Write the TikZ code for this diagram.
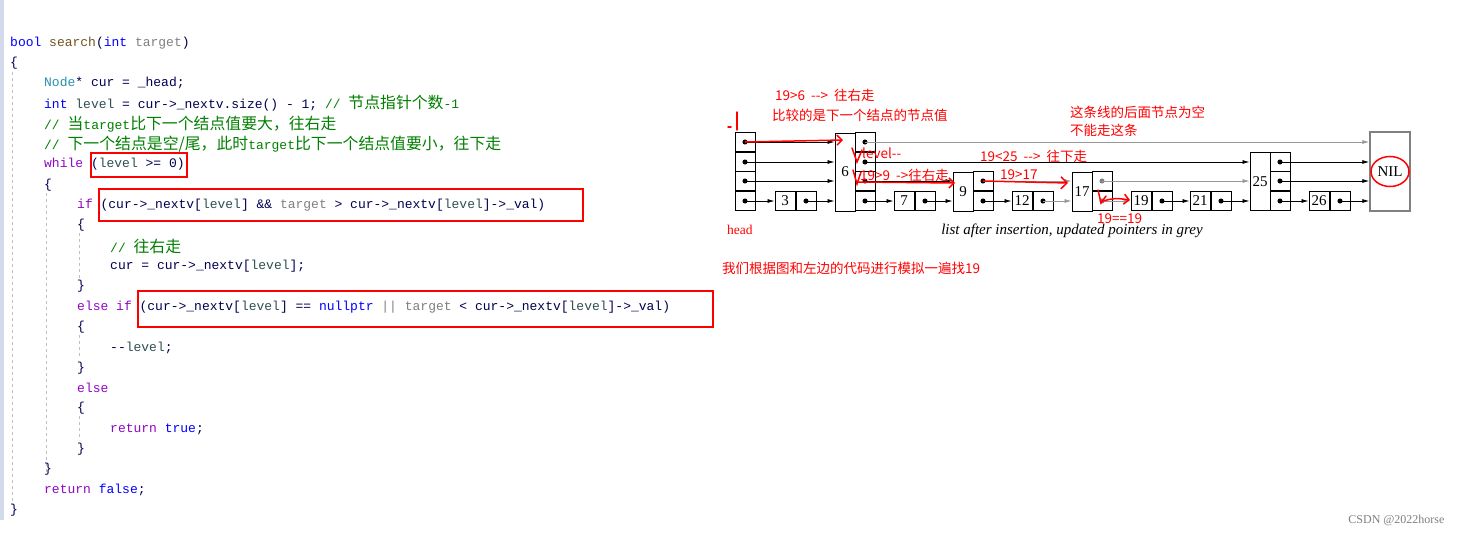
\documentclass[tikz,border=0pt]{standalone}
\usepackage{fontspec}
\setmonofont{Liberation Mono}
\setmainfont{Liberation Serif}
\newfontfamily\cjk[Scale=1.22]{Noto Sans CJK SC}
\newfontfamily\redcjk{Noto Sans CJK SC}
\usetikzlibrary{arrows.meta,positioning}
\definecolor{kwblue}{RGB}{0,0,255}
\definecolor{kwpurple}{RGB}{143,8,196}
\definecolor{cmgreen}{RGB}{0,128,0}
\definecolor{tggrey}{RGB}{128,128,128}
\definecolor{idnavy}{RGB}{0,0,80}
\definecolor{lvteal}{RGB}{47,79,79}
\definecolor{nodeteal}{RGB}{43,145,175}
\definecolor{fnbrown}{RGB}{116,83,31}
\definecolor{barblue}{RGB}{210,218,235}
\newcommand{\kw}[1]{\textcolor{kwblue}{#1}}
\newcommand{\kp}[1]{\textcolor{kwpurple}{#1}}
\newcommand{\cm}[1]{\textcolor{cmgreen}{#1}}
\newcommand{\tg}[1]{\textcolor{tggrey}{#1}}
\newcommand{\lv}[1]{\textcolor{lvteal}{#1}}
\tikzset{
  codeline/.style={anchor=west,inner sep=0pt,font=\ttfamily\fontsize{13}{14}\selectfont,text=idnavy},
  redbox/.style={draw=red,line width=1.2pt},
  cell/.style={draw,line width=1pt,minimum width=20pt,minimum height=19.5pt,inner sep=0pt,font=\fontsize{15}{16}\selectfont},
  ptr/.style={-{Latex[length=7pt,width=4pt]},line width=0.8pt},
  newptr/.style={ptr,draw=gray!80},
  dot/.style={circle,fill,inner sep=1.8pt},
  note/.style={red,anchor=west,inner sep=0pt,font=\redcjk\fontsize{13.5}{15}\selectfont},
  hand/.style={red,line width=1.5pt,line cap=round}
}
\begin{document}
\begin{tikzpicture}[x=1pt,y=-1pt]
\useasboundingbox[fill=white] (0,0) rectangle (1460,535);
% left margin bar and indent guides
\fill[barblue] (0,0) rectangle (4,520);
\draw[gray!50,dashed] (12,72) -- (12,505);
\draw[gray!50,dashed] (46,193) -- (46,475);
\draw[gray!50,dashed] (79,233) -- (79,280) (79,335) -- (79,358) (79,416) -- (79,440);
% the code
\node[codeline] (l1) at (10,43) {\kw{bool} \textcolor{fnbrown}{search}(\kw{int} \tg{target})};
\node[codeline] (l2) at (10,63) {\{};
\node[codeline] (l3) at (44,83) {\textcolor{nodeteal}{Node}* cur = \_head;};
\node[codeline] (l4) at (44,103) {\kw{int} \lv{level} = cur->\_nextv.size() - 1; \cm{// {\cjk 节点指针个数}-1}};
\node[codeline] (l5) at (44,124) {\cm{// {\cjk 当}target{\cjk 比下一个结点值要大，往右走}}};
\node[codeline] (l6) at (44,144) {\cm{// {\cjk 下一个结点是空/尾，此时}target{\cjk 比下一个结点值要小，往下走}}};
\node[codeline] (l7) at (44,164) {\kp{while} (\lv{level} >= 0)};
\node[codeline] (l8) at (44,185) {\{};
\node[codeline] (l9) at (77,205) {\kp{if} (cur->\_nextv[\lv{level}] \&\& \tg{target} > cur->\_nextv[\lv{level}]->\_val)};
\node[codeline] (l10) at (77,225) {\{};
\node[codeline] (l11) at (110,246) {\cm{// {\cjk 往右走}}};
\node[codeline] (l12) at (110,266) {cur = cur->\_nextv[\lv{level}];};
\node[codeline] (l13) at (77,286) {\}};
\node[codeline] (l14) at (77,307) {\kp{else if} (cur->\_nextv[\lv{level}] == \kw{nullptr} \tg{||} \tg{target} < cur->\_nextv[\lv{level}]->\_val)};
\node[codeline] (l15) at (77,327) {\{};
\node[codeline] (l16) at (110,348) {--\lv{level};};
\node[codeline] (l17) at (77,368) {\}};
\node[codeline] (l18) at (77,388) {\kp{else}};
\node[codeline] (l19) at (77,408) {\{};
\node[codeline] (l20) at (110,429) {\kp{return} \kw{true};};
\node[codeline] (l21) at (77,449) {\}};
\node[codeline] (l22) at (44,469) {\}};
\node[codeline] (l23) at (44,490) {\kp{return} \kw{false};};
\node[codeline] (l24) at (10,510) {\}};
% red boxes round the conditions
\draw[redbox] (91,153) rectangle (187,177);
\draw[redbox] (99,189) rectangle (583,221);
\draw[redbox] (138,291) rectangle (713,327);
% skip list: head tower
\foreach \i/\y in {3/142,2/162,1/181,0/201}{
  \node[cell] (h\i) at (745,\y) {};
  \node[dot] at (h\i) {};
}
% single level nodes
\foreach \v/\x in {3/795,7/914,12/1032,19/1151,21/1210,26/1329}{
  \node[cell] (k\v) at (\x-10,201) {\v};
  \node[cell,right=0pt of k\v] (p\v) {};
  \node[dot] at (p\v) {};
}
% tall towers
\node[cell,minimum height=78pt] (k6) at (845,172) {6};
\foreach \i/\y in {3/142,2/162,1/181,0/201}{
  \node[cell] (t6\i) at (865,\y) {};
  \node[dot] at (t6\i) {};
}
\node[cell,minimum height=39pt] (k9) at (963,191.5) {9};
\node[cell,minimum height=39pt] (k17) at (1082,191.5) {17};
\foreach \i/\y in {1/181,0/201}{
  \node[cell] (t9\i) at (983,\y) {};
  \node[dot] at (t9\i) {};
  \node[cell] (t17\i) at (1102,\y) {};
  \node[dot,fill=gray] at (t17\i) {};
}
\node[cell,minimum height=58.5pt] (k25) at (1260,181.5) {25};
\foreach \i/\y in {2/162,1/181,0/201}{
  \node[cell] (t25\i) at (1280,\y) {};
  \node[dot] at (t25\i) {};
}
\node[cell,draw=gray,line width=1.5pt,minimum width=40pt,minimum height=79pt] (nil) at (1390,171.5) {NIL};
% pointers
\draw[ptr] (h3.center) -- (k6.west |- h3);
\draw[ptr] (h2.center) -- (k6.west |- h2);
\draw[ptr] (h1.center) -- (k6.west |- h1);
\draw[ptr] (h0.center) -- (k3.west);
\draw[ptr] (p3.center) -- (k6.west |- p3);
\draw[newptr] (t63.center) -- (nil.west |- t63);
\draw[ptr] (t62.center) -- (k25.west |- t62);
\draw[ptr] (t61.center) -- (k9.west |- t61);
\draw[ptr] (t60.center) -- (k7.west);
\draw[ptr] (p7.center) -- (k9.west |- p7);
\draw[newptr] (t91.center) -- (k17.west |- t91);
\draw[ptr] (t90.center) -- (k12.west);
\draw[newptr] (p12.center) -- (k17.west |- p12);
\draw[newptr] (t171.center) -- (k25.west |- t171);
\draw[newptr] (t170.center) -- (k19.west);
\draw[ptr] (p19.center) -- (k21.west);
\draw[ptr] (p21.center) -- (k25.west |- p21);
\draw[ptr] (t252.center) -- (nil.west |- t252);
\draw[ptr] (t251.center) -- (nil.west |- t251);
\draw[ptr] (t250.center) -- (k26.west);
\draw[ptr] (p26.center) -- (nil.west |- p26);
% captions
\node[note,font=\fontsize{13.5}{15}\selectfont] (headlbl) at (727,230) {head};
\node[font=\itshape\fontsize{15}{16}\selectfont] (cap) at (1072,231) {list after insertion, updated pointers in grey};
% red annotations
\node[note] (n1) at (775,95) {19>6 \ -->\ \ 往右走};
\node[note] (n2) at (772,115) {比较的是下一个结点的节点值};
\node[note] (n3) at (1070,112) {这条线的后面节点为空};
\node[note] (n4) at (1070,130) {不能走这条};
\node[note] (n5) at (862,153) {level--};
\node[note] (n6) at (980,156) {19<25 \ -->\ \ 往下走};
\node[note] (n7) at (860,175) {19>9 \ ->往右走};
\node[note] (n8) at (1000,175) {19>17};
\node[note] (n9) at (1097,219) {19==19};
\node[note] (n10) at (722,268) {我们根据图和左边的代码进行模拟一遍找19};
% hand drawn marks
\draw[hand] (728,127) -- (731,127) (737,112) -- (737,130);
\draw[hand,-{Straight Barb[length=5pt]}] (h3.center) -- (843,140);
\draw[hand] (852,148) -- (857,162) -- (862,150);
\draw[hand] (853,170) -- (857,184) -- (861,172);
\draw[hand,-{Straight Barb[length=5pt]}] (858,182) -- (955,183);
\draw[hand,-{Straight Barb[length=6pt]}] (t91.center) -- (1068,183);
\draw[hand] (1098,190) -- (1101,203) -- (1106,196);
\draw[hand,-{Straight Barb[length=5pt]}] (1103,201) .. controls (1115,198) .. (1130,200);
\draw[hand] (nil.center) ellipse (19pt and 15pt);
% watermark
\node[gray,anchor=east,font=\fontsize{12}{14}\selectfont] (wm) at (1448,520) {CSDN @2022horse};
\end{tikzpicture}
\end{document}
